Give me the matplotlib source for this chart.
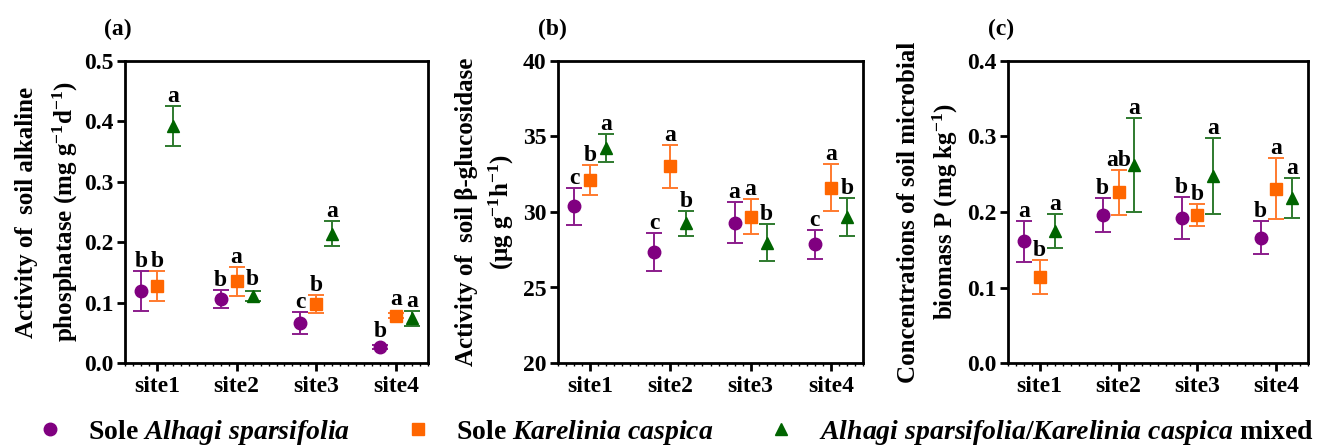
import matplotlib
matplotlib.use('Agg')
import matplotlib.pyplot as plt
import numpy as np
from matplotlib.lines import Line2D
from matplotlib.ticker import MultipleLocator

plt.rcParams['font.family'] = ['Liberation Serif', 'DejaVu Serif']
plt.rcParams['font.weight'] = 'bold'
plt.rcParams['mathtext.fontset'] = 'custom'
plt.rcParams['mathtext.rm'] = 'Liberation Serif:bold'
plt.rcParams['mathtext.it'] = 'Liberation Serif:italic:bold'
plt.rcParams['mathtext.bf'] = 'Liberation Serif:bold'
plt.rcParams['mathtext.default'] = 'rm'

# ---------------- data ----------------
sites = ['site1', 'site2', 'site3', 'site4']
series_labels = ['Sole $\\mathit{Alhagi\\ sparsifolia}$',
                 'Sole $\\mathit{Karelinia\\ caspica}$',
                 '$\\mathit{Alhagi\\ sparsifolia/Karelinia\\ caspica}$ mixed']

# (a) alkaline phosphatase
a_alhagi = [0.119, 0.106, 0.066, 0.026]
a_alhagi_err = [0.033, 0.015, 0.018, 0.003]
a_kare = [0.128, 0.135, 0.097, 0.078]
a_kare_err = [0.025, 0.024, 0.015, 0.004]
a_mixed = [0.393, 0.111, 0.214, 0.074]
a_mixed_err = [0.033, 0.009, 0.021, 0.012]
a_alhagi_let = ['b', 'b', 'c', 'b']
a_kare_let = ['b', 'a', 'b', 'a']
a_mixed_let = ['a', 'b', 'a', 'a']

# (b) beta-glucosidase
b_alhagi = [30.37, 27.37, 29.30, 27.85]
b_alhagi_err = [1.20, 1.27, 1.33, 0.96]
b_kare = [32.10, 33.02, 29.70, 31.62]
b_kare_err = [1.00, 1.42, 1.15, 1.56]
b_mixed = [34.22, 29.24, 27.97, 29.67]
b_mixed_err = [0.92, 0.84, 1.24, 1.27]
b_alhagi_let = ['c', 'c', 'a', 'c']
b_kare_let = ['b', 'a', 'a', 'a']
b_mixed_let = ['a', 'b', 'b', 'b']

# (c) microbial biomass P
c_alhagi = [0.161, 0.196, 0.192, 0.166]
c_alhagi_err = [0.027, 0.022, 0.028, 0.022]
c_kare = [0.114, 0.226, 0.196, 0.231]
c_kare_err = [0.023, 0.030, 0.014, 0.040]
c_mixed = [0.175, 0.262, 0.248, 0.218]
c_mixed_err = [0.0225, 0.062, 0.050, 0.0265]
c_alhagi_let = ['a', 'b', 'b', 'b']
c_kare_let = ['b', 'ab', 'b', 'a']
c_mixed_let = ['a', 'a', 'a', 'a']

panel_titles = ['(a)', '(b)', '(c)']
ylabels = [
    ['Activity of  soil alkaline', 'phosphatase (mg g$^{-1}$d$^{-1}$)'],
    ['Activity of  soil \u03b2-glucosidase', '(\u03bcg g$^{-1}$h$^{-1}$)'],
    ['Concentrations of soil microbial', 'biomass P (mg kg$^{-1}$)'],
]
ylims = [(0, 0.5), (20, 40), (0, 0.4)]
ysteps = [0.1, 5, 0.1]
yfmt = ['{:.1f}', '{:.0f}', '{:.1f}']

# ---------------- style ----------------
marker_colors = ['#800080', '#FF6600', '#006400']
err_colors = ['#8B1C8B', '#FF7A2E', '#2E7A2E']
markers = ['o', 's', '^']
msizes = [9, 8.5, 9]
offsets = [-0.2, 0.0, 0.2]

W, H = 1317, 448
fig = plt.figure(figsize=(W / 100, H / 100), dpi=100)

axes_px = [(125, 428), (558, 863), (1008, 1308)]
ax_top, ax_bot = 61, 363

panels = [
    ([a_alhagi, a_kare, a_mixed], [a_alhagi_err, a_kare_err, a_mixed_err],
     [a_alhagi_let, a_kare_let, a_mixed_let]),
    ([b_alhagi, b_kare, b_mixed], [b_alhagi_err, b_kare_err, b_mixed_err],
     [b_alhagi_let, b_kare_let, b_mixed_let]),
    ([c_alhagi, c_kare, c_mixed], [c_alhagi_err, c_kare_err, c_mixed_err],
     [c_alhagi_let, c_kare_let, c_mixed_let]),
]

ylabel_x = [(27, 65), (466, 501), (908, 945)]
title_x = [118, 552, 1001]

x = np.arange(1, len(sites) + 1)
for p, (means, errs, lets) in enumerate(panels):
    l, r = axes_px[p]
    ax = fig.add_axes([l / W, (H - ax_bot) / H, (r - l) / W, (ax_bot - ax_top) / H])
    ax.set_xlim(0.6, 4.4)
    ax.set_ylim(*ylims[p])
    axh_px = ax_bot - ax_top
    yr = ylims[p][1] - ylims[p][0]
    for s in range(3):
        xs = x + offsets[s]
        ax.errorbar(xs, means[s], yerr=errs[s], fmt='none', ecolor=err_colors[s],
                    elinewidth=1.4, capsize=6, capthick=1.4, zorder=2)
        ax.plot(xs, means[s], linestyle='none', marker=markers[s], ms=msizes[s],
                color=marker_colors[s], mec=marker_colors[s], zorder=3)
        for i in range(len(sites)):
            err_px = errs[s][i] / yr * axh_px
            extra_px = max(0.0, 6.5 - err_px)
            off_pt = (4 + extra_px) * 0.72
            ax.annotate(lets[s][i], xy=(xs[i], means[s][i] + errs[s][i]),
                        xytext=(0, off_pt), textcoords='offset points',
                        ha='center', va='baseline', fontsize=17, fontweight='bold')
    ax.set_xticks(x)
    ax.set_xticklabels(sites, fontsize=17, fontweight='bold')
    ax.xaxis.set_minor_locator(MultipleLocator(0.1))
    yt = np.arange(ylims[p][0], ylims[p][1] + 1e-9, ysteps[p])
    ax.set_yticks(yt)
    ax.set_yticklabels([yfmt[p].format(v) for v in yt], fontsize=17, fontweight='bold')
    for sp in ax.spines.values():
        sp.set_linewidth(2.0)
    ax.tick_params(axis='both', which='major', direction='out', length=5.5, width=2.0,
                   pad=3)
    ax.tick_params(axis='x', which='major', pad=4)
    ax.tick_params(axis='x', which='minor', direction='out', length=2.5, width=1.0)
    ax.tick_params(axis='y', which='minor', left=False)
    # y labels (two lines)
    yc = 1 - ((ax_top + ax_bot) / 2) / H
    fig.text(ylabel_x[p][0] / W, yc, ylabels[p][0], rotation=90, ha='center', va='center',
             fontsize=18, fontweight='bold')
    fig.text(ylabel_x[p][1] / W, yc, ylabels[p][1], rotation=90, ha='center', va='center',
             fontsize=18, fontweight='bold')
    fig.text(title_x[p] / W, 1 - 29 / H, panel_titles[p], ha='center', va='center',
             fontsize=17, fontweight='bold')

handles = [Line2D([], [], linestyle='none', marker=markers[s], ms=msizes[s],
                  color=marker_colors[s]) for s in range(3)]
fig.legend(handles, series_labels, loc='center', bbox_to_anchor=(675 / W, 1 - 432 / H),
           ncol=3, frameon=False, handlelength=1.0, handletextpad=0.86,
           columnspacing=1.95, borderpad=0.2,
           prop={'weight': 'bold', 'size': 20})

fig.savefig('out.png', dpi=100)
